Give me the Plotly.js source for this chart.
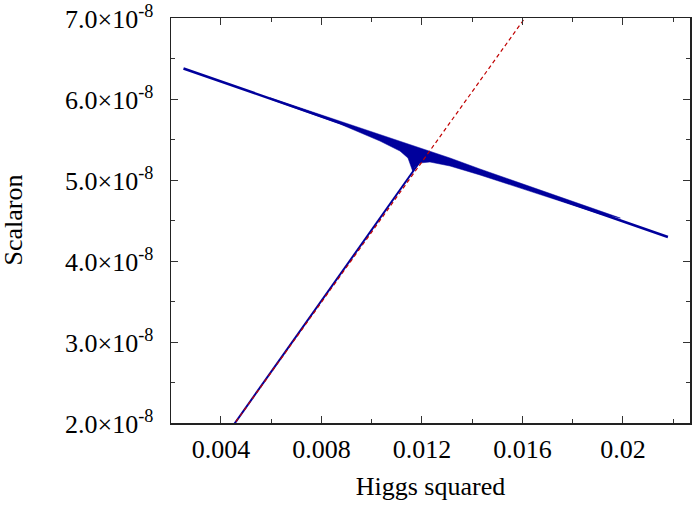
<!DOCTYPE html>
<html>
<head>
<meta charset="utf-8">
<script src="https://cdn.plot.ly/plotly-3.0.1.min.js"></script>
<style>html,body{margin:0;padding:0;background:#fff;}#chart{width:692px;height:509px;}</style>
</head>
<body>
<div id="chart"></div>
<script>
// Main attractor line (Higgs squared, Scalaron)
var mainX = [0.002507, 0.005950, 0.011124, 0.015900, 0.021791];
var mainY = [6.377e-8, 6.008e-8, 5.445e-8, 4.932e-8, 4.296e-8];

// Oscillation band outline (upper edge, then lower edge back)
var bandX = [0.005950, 0.008736, 0.010328, 0.011124, 0.011920, 0.013114, 0.014308, 0.015900, 0.017493, 0.019085, 0.019900,
             0.019085, 0.017493, 0.015900, 0.014308, 0.013114, 0.012318, 0.011920, 0.011721, 0.011642, 0.011562, 0.011443, 0.011124, 0.010328, 0.008736, 0.005950];
var bandY = [6.016e-8, 5.728e-8, 5.568e-8, 5.481e-8, 5.395e-8, 5.272e-8, 5.136e-8, 4.963e-8, 4.790e-8, 4.617e-8, 4.530e-8,
             4.580e-8, 4.741e-8, 4.901e-8, 5.062e-8, 5.173e-8, 5.222e-8, 5.210e-8, 5.160e-8, 5.099e-8, 5.160e-8, 5.272e-8, 5.358e-8, 5.481e-8, 5.691e-8, 6.000e-8];

// Trajectory rising from below
var riseX = [0.004465, 0.011650, 0.011881];
var riseY = [1.96e-8, 5.099e-8, 5.210e-8];

// Dashed reference line
var refX = [0.004432, 0.016191];
var refY = [1.946e-8, 7.04e-8];

// Tick labels and titles
var xTickVals = [0.004, 0.008, 0.012, 0.016, 0.02];
var xTickText = ['0.004', '0.008', '0.012', '0.016', '0.02'];
var yTickVals = [2e-8, 3e-8, 4e-8, 5e-8, 6e-8, 7e-8];
var yTickText = ['2.0×10<sup>-8</sup>', '3.0×10<sup>-8</sup>', '4.0×10<sup>-8</sup>', '5.0×10<sup>-8</sup>', '6.0×10<sup>-8</sup>', '7.0×10<sup>-8</sup>'];
var xTitle = 'Higgs squared';
var yTitle = 'Scalaron';

var blue = '#00009c';
var red = '#c00000';

var traces = [
  {x: bandX, y: bandY, mode: 'lines', fill: 'toself', fillcolor: blue, line: {color: blue, width: 0.5}, hoverinfo: 'skip', showlegend: false},
  {x: mainX, y: mainY, mode: 'lines', line: {color: blue, width: 2.5}, showlegend: false},
  {x: riseX, y: riseY, mode: 'lines', line: {color: blue, width: 2}, showlegend: false},
  {x: refX, y: refY, mode: 'lines', line: {color: red, width: 1.2, dash: '4px,3px'}, showlegend: false}
];

var font = {family: '"Liberation Serif", "Times New Roman", serif', size: 26, color: '#000'};

// paper coordinate helper for the left margin (plot area spans 519 px from x=171)
function vx(px){return (px-171)/519;}

// y tick labels placed as annotations, right-aligned
var ann = yTickVals.map(function(v, i){
  return {x: vx(154), xref: 'paper', xanchor: 'right', y: v, yref: 'y', yanchor: 'middle', yshift: 1,
          text: yTickText[i], showarrow: false, font: font, borderpad: 0};
});
ann.push({x: vx(13), xref: 'paper', xanchor: 'center', y: 0.5, yref: 'paper', yanchor: 'middle',
          text: yTitle, textangle: -90, showarrow: false, font: font, borderpad: 0});

var layout = {
  width: 692, height: 509,
  margin: {l: 171, r: 2, t: 18, b: 86},
  paper_bgcolor: '#fff', plot_bgcolor: '#fff',
  font: font,
  showlegend: false,
  annotations: ann,
  xaxis: {
    range: [0.00201, 0.02267],
    tickvals: xTickVals, ticktext: xTickText,
    ticks: 'inside', ticklen: 7, tickwidth: 1, tickcolor: '#333',
    minor: {dtick: 0.002, tick0: 0, ticks: 'inside', ticklen: 4, tickcolor: '#333', showgrid: false},
    showline: true, linecolor: '#222', linewidth: 1.5, mirror: 'ticks',
    showgrid: false, zeroline: false,
    tickfont: font, ticklabelstandoff: 2,
    title: {text: xTitle, font: font, standoff: 14}
  },
  yaxis: {
    range: [2e-8, 7e-8],
    tickvals: yTickVals, showticklabels: false,
    ticks: 'inside', ticklen: 7, tickwidth: 1, tickcolor: '#333',
    minor: {dtick: 0.5e-8, tick0: 0, ticks: 'inside', ticklen: 4, tickcolor: '#333', showgrid: false},
    showline: true, linecolor: '#222', linewidth: 1.5, mirror: 'ticks',
    showgrid: false, zeroline: false
  }
};

Plotly.newPlot('chart', traces, layout, {staticPlot: true, displayModeBar: false});
</script>
</body>
</html>
